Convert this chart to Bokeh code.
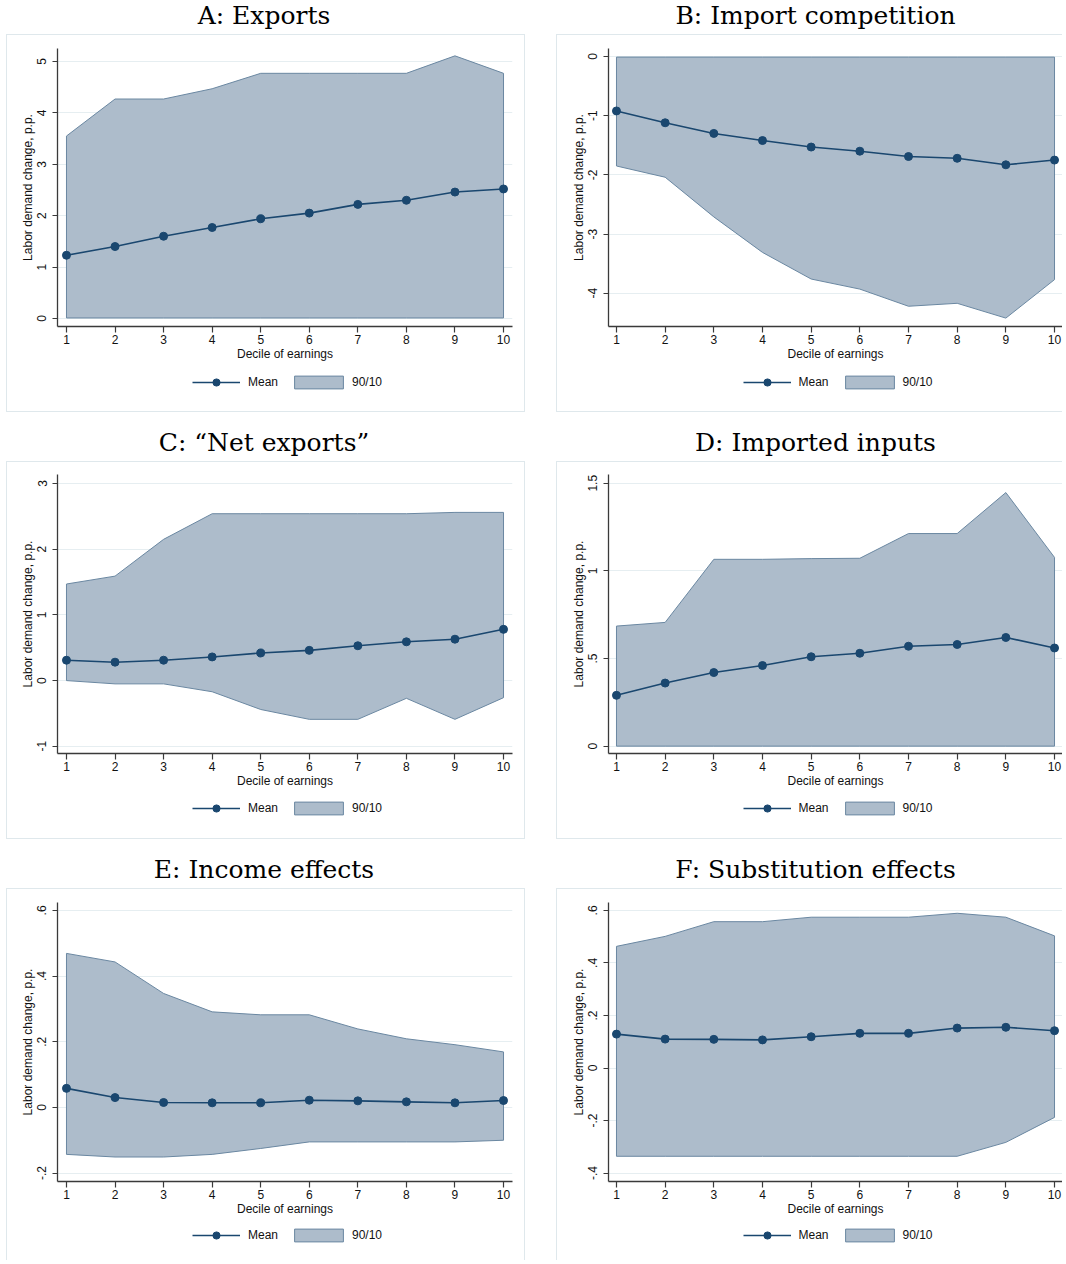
from bokeh.plotting import figure
from bokeh.layouts import column, row
from bokeh.models import (Range1d, FixedTicker, CustomJSTickFormatter, Legend,
                          LegendItem, Label, Spacer)
from bokeh.embed import file_html
from bokeh.resources import INLINE

# ---------------- data ----------------
deciles = [1, 2, 3, 4, 5, 6, 7, 8, 9, 10]

exports_mean = [1.23, 1.40, 1.60, 1.77, 1.94, 2.05, 2.22, 2.30, 2.46, 2.52]
exports_p90 = [3.55, 4.27, 4.27, 4.47, 4.77, 4.77, 4.77, 4.77, 5.11, 4.77]
exports_p10 = [0.01, 0.01, 0.01, 0.01, 0.01, 0.01, 0.01, 0.01, 0.01, 0.01]

imports_mean = [-0.92, -1.12, -1.30, -1.42, -1.53, -1.60, -1.69, -1.72, -1.83, -1.75]
imports_p90 = [-0.01, -0.01, -0.01, -0.01, -0.01, -0.01, -0.01, -0.01, -0.01, -0.01]
imports_p10 = [-1.85, -2.04, -2.71, -3.31, -3.76, -3.93, -4.22, -4.17, -4.42, -3.77]

net_mean = [0.31, 0.28, 0.31, 0.36, 0.42, 0.46, 0.53, 0.59, 0.63, 0.78]
net_p90 = [1.47, 1.59, 2.15, 2.54, 2.54, 2.54, 2.54, 2.54, 2.56, 2.56]
net_p10 = [0.0, -0.05, -0.05, -0.17, -0.44, -0.59, -0.59, -0.27, -0.59, -0.26]

inputs_mean = [0.29, 0.36, 0.42, 0.46, 0.51, 0.53, 0.57, 0.58, 0.62, 0.56]
inputs_p90 = [0.685, 0.706, 1.066, 1.066, 1.07, 1.072, 1.213, 1.213, 1.447, 1.077]
inputs_p10 = [0.0, 0.0, 0.0, 0.0, 0.0, 0.0, 0.0, 0.0, 0.0, 0.0]

income_mean = [0.058, 0.030, 0.015, 0.014, 0.014, 0.022, 0.020, 0.017, 0.014, 0.021]
income_p90 = [0.469, 0.443, 0.347, 0.291, 0.282, 0.282, 0.239, 0.209, 0.191, 0.169]
income_p10 = [-0.143, -0.151, -0.151, -0.143, -0.125, -0.105, -0.105, -0.105, -0.105, -0.100]

subst_mean = [0.129, 0.110, 0.109, 0.107, 0.119, 0.132, 0.132, 0.152, 0.155, 0.142]
subst_p90 = [0.463, 0.501, 0.557, 0.557, 0.574, 0.574, 0.574, 0.589, 0.574, 0.503]
subst_p10 = [-0.336, -0.336, -0.336, -0.336, -0.336, -0.336, -0.336, -0.336, -0.283, -0.188]

titles = ["A: Exports", "B: Import competition", "C: \u201cNet exports\u201d",
          "D: Imported inputs", "E: Income effects", "F: Substitution effects"]

ticks_a = [0, 1, 2, 3, 4, 5]
labels_a = ["0", "1", "2", "3", "4", "5"]
ticks_b = [-4, -3, -2, -1, 0]
labels_b = ["-4", "-3", "-2", "-1", "0"]
ticks_c = [-1, 0, 1, 2, 3]
labels_c = ["-1", "0", "1", "2", "3"]
ticks_d = [0, 0.5, 1, 1.5]
labels_d = ["0", ".5", "1", "1.5"]
ticks_e = [-0.2, 0, 0.2, 0.4, 0.6]
labels_e = ["-.2", "0", ".2", ".4", ".6"]
ticks_f = [-0.4, -0.2, 0, 0.2, 0.4, 0.6]
labels_f = ["-.4", "-.2", "0", ".2", ".4", ".6"]

x_label = "Decile of earnings"
y_label = "Labor demand change, p.p."
legend_labels = ["Mean", "90/10"]

# ---------------- style / geometry ----------------
NAVY = "#1a476f"
FILL = "#adbccb"
EDGE = "#6a87a1"
GRID = "#e6eef1"
BOX = "#dfe8ec"
AXIS = "#3a3a3a"
TXT = "#111111"
SANS = "Liberation Sans"
SERIF = "DejaVu Serif"
NAN = float("nan")

TITLE_H = [34, 49, 49]
TITLE_Y = [18.7, 19, 19.3]
MAIN_TOP = [13, 12, 13]
FRAME_H = [278, 279, 279]
MAIN_H = 335
LEG_H = [41, 41, 36]
LEG_TOP = [12, 11, 11]

COL_W = [517, 505]
COL_LEFT = [50, 51]
COL_FW = [455, 454]
COL_XR = [(0.815, 10.185), (0.836, 10.164)]
TITLE_X = [257.5, 259]


def bare(width, height):
    f = figure(width=width, height=height, x_range=Range1d(0, 1), y_range=Range1d(0, 1),
               x_axis_type=None, y_axis_type=None, output_backend="svg",
               toolbar_location=None, min_border_left=0, min_border_right=0,
               min_border_top=0, min_border_bottom=0)
    f.outline_line_color = None
    f.background_fill_color = "white"
    f.border_fill_color = "white"
    return f


def panel(title, mean, p90, p10, yticks, ylabels, yrange, col, r):
    W = COL_W[col]
    left = COL_LEFT[col]
    fw = COL_FW[col]
    right = W - left - fw
    top = MAIN_TOP[r]
    fh = FRAME_H[r]
    bottom = MAIN_H - top - fh

    # ---- title strip ----
    tw = W + (2 if col == 0 else 1)
    tf = bare(tw, TITLE_H[r])
    tf.add_layout(Label(x=TITLE_X[col], y=TITLE_Y[r], x_units="screen", y_units="screen",
                        text=title, text_align="center", text_baseline="alphabetic",
                        text_font=SERIF, text_font_size="25px", text_color="#000000"))

    # ---- main plot ----
    p = figure(width=W, height=MAIN_H, x_range=Range1d(*COL_XR[col]),
               y_range=Range1d(*yrange), output_backend="svg",
               toolbar_location=None, min_border_left=left,
               min_border_right=right, min_border_top=top,
               min_border_bottom=bottom)
    p.outline_line_color = None
    p.background_fill_color = "white"
    p.border_fill_color = "white"

    xs = list(deciles) + list(deciles)[::-1]
    ys = list(p90) + list(p10)[::-1]
    p.patch(xs, ys, fill_color=FILL, line_color=EDGE, line_width=1)
    p.line(deciles, mean, line_color=NAVY, line_width=1.6)
    p.scatter(deciles, mean, size=8, fill_color=NAVY, line_color=NAVY)

    p.xaxis.ticker = FixedTicker(ticks=deciles)
    p.yaxis.ticker = FixedTicker(ticks=yticks)
    p.yaxis.formatter = CustomJSTickFormatter(
        args=dict(vals=yticks, labs=ylabels),
        code="for (let i = 0; i < vals.length; i++) { if (Math.abs(vals[i] - tick) < 1e-9) return labs[i]; } return '';")
    for ax in (p.xaxis[0], p.yaxis[0]):
        ax.axis_line_color = AXIS
        ax.axis_line_width = 1.3
        ax.major_tick_line_color = AXIS
        ax.major_tick_line_width = 1.2
        ax.major_tick_in = 0
        ax.minor_tick_line_color = None
        ax.major_label_text_font = SANS
        ax.major_label_text_font_size = "12px"
        ax.major_label_text_color = TXT
        ax.axis_label_text_font = SANS
        ax.axis_label_text_font_size = "12px"
        ax.axis_label_text_font_style = "normal"
        ax.axis_label_text_color = TXT
    p.xaxis.major_tick_out = 6
    p.yaxis.major_tick_out = 5
    p.xaxis.major_label_standoff = 2
    p.yaxis.major_label_standoff = 6
    p.xaxis.axis_label = x_label
    p.yaxis.axis_label = y_label
    p.xaxis.axis_label_standoff = 0
    p.yaxis.axis_label_standoff = 0
    p.yaxis.major_label_orientation = "vertical"
    p.xgrid.grid_line_color = None
    p.ygrid.grid_line_color = GRID
    p.ygrid.grid_line_width = 1.2

    # ---- legend strip (proxy glyphs carry no visible data) ----
    lf = figure(width=W, height=LEG_H[r], x_range=Range1d(0, 1), y_range=Range1d(0, 1),
                x_axis_type=None, y_axis_type=None, output_backend="svg",
                toolbar_location=None, min_border_left=left, min_border_right=right,
                min_border_top=0, min_border_bottom=LEG_H[r] - 2 * LEG_TOP[r])
    lf.outline_line_color = None
    lf.background_fill_color = "white"
    lf.border_fill_color = "white"
    k_band = lf.patch([NAN, NAN, NAN], [NAN, NAN, NAN], fill_color=FILL,
                      line_color=EDGE, line_width=1)
    k_line = lf.line([NAN], [NAN], line_color=NAVY, line_width=1.6)
    k_pts = lf.scatter([NAN], [NAN], size=8, fill_color=NAVY, line_color=NAVY)
    common = dict(orientation="horizontal", padding=0, margin=0,
                  border_line_color=None, background_fill_alpha=0,
                  label_text_font=SANS, label_text_font_size="12px",
                  label_text_color=TXT)
    leg1 = Legend(items=[LegendItem(label=legend_labels[0], renderers=[k_line, k_pts])],
                  location=(fw / 2 - 92.5, LEG_TOP[r] - 9),
                  glyph_width=48, glyph_height=18, label_height=18,
                  label_standoff=8, **common)
    leg2 = Legend(items=[LegendItem(label=legend_labels[1], renderers=[k_band])],
                  location=(fw / 2 + 3.5, LEG_TOP[r] - 8),
                  glyph_width=61, glyph_height=16, label_height=16,
                  label_standoff=3, **common)
    lf.add_layout(leg1)
    lf.add_layout(leg2)

    border = "1px solid " + BOX
    st = {"border-left": border, "border-top": border}
    if col == 0:
        st["border-right"] = border
    if r < 2:
        st["border-bottom"] = border
    body = column(p, lf, styles=st)
    return column(tf, body)


pa = panel(titles[0], exports_mean, exports_p90, exports_p10, ticks_a, labels_a, (-0.156, 5.253), 0, 0)
pb = panel(titles[1], imports_mean, imports_p90, imports_p10, ticks_b, labels_b, (-4.562, 0.135), 1, 0)
pc = panel(titles[2], net_mean, net_p90, net_p10, ticks_c, labels_c, (-1.11, 3.137), 0, 1)
pd = panel(titles[3], inputs_mean, inputs_p90, inputs_p10, ticks_d, labels_d, (-0.042, 1.55), 1, 1)
pe = panel(titles[4], income_mean, income_p90, income_p10, ticks_e, labels_e, (-0.2256, 0.624), 0, 2)
pf = panel(titles[5], subst_mean, subst_p90, subst_p10, ticks_f, labels_f, (-0.432, 0.630), 1, 2)

rows = [row(Spacer(width=6), a, Spacer(width=31), b) for a, b in ((pa, pb), (pc, pd), (pe, pf))]
layout = column(*rows)
open("out.html", "w").write(file_html(layout, INLINE))
